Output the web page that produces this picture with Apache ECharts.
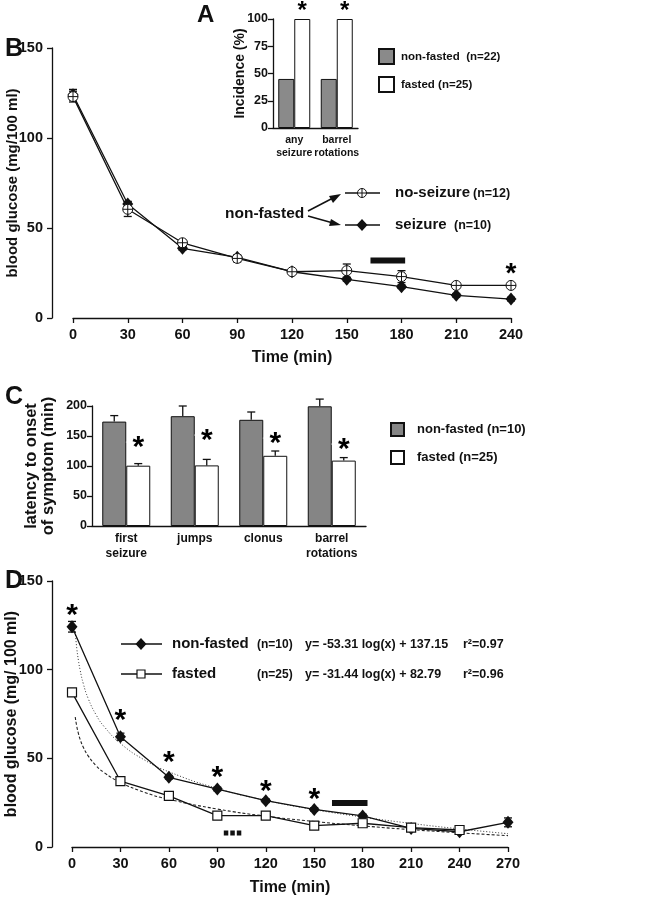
<!DOCTYPE html>
<html>
<head>
<meta charset="utf-8">
<title>blood glucose</title>
<script src="https://cdn.jsdelivr.net/npm/echarts@6/dist/echarts.min.js"></script>
<style>body{margin:0;background:#fff}</style>
</head>
<body>
<div id="main" style="width:652px;height:899px;"></div>
<script>
// ---- panel A: incidence
var incCats = ['any\nseizure', 'barrel\nrotations'];
var incNonFasted = [45, 45];
var incFasted = [100, 100];
var incStars = [[0, 111], [1, 111]];

// ---- panel B: non-fasted, seizure vs no-seizure
var timesB = [0, 30, 60, 90, 120, 150, 180, 210, 240];
var noSeizure = [123, 60.4, 41.8, 33.1, 25.7, 26.3, 23, 18.1, 18.1];
var noSeizureErr = [3, 4, 1.5, 2, 1, 3.7, 3.3, 1, 1.5];
var seizure = [124, 63.3, 38.7, 33.7, 25.7, 21.5, 17.4, 12.6, 10.5];
var seizureErr = [3, 1.5, 1, 1, 1, 1, 1, 1, 1];
var barB = [[163, 32], [182, 32]];
var starsB = [[240, 27]];

// ---- panel C: latency
var symCats = ['first\nseizure', 'jumps', 'clonus', 'barrel\nrotations'];
var latNonFasted = [174, 183, 177, 199.5];
var latNonFastedErr = [10, 17, 13, 12];
var latFasted = [100.5, 101, 117, 109];
var latFastedErr = [3.5, 10, 8, 5];
var starsC = [[0, 140], [1, 151.7], [2, 146.7], [3, 136.7]];

// ---- panel D: non-fasted vs fasted
var timesD = [0, 30, 60, 90, 120, 150, 180, 210, 240, 270];
var nonFastedD = [124.2, 62.2, 39.3, 32.7, 26.1, 21.2, 17.5, 10.5, 8.6, 13.9];
var nonFastedErrD = [3, 2, 1, 1, 1, 1, 1, 1, 1, 2.5];
var timesFD = [0, 30, 60, 90, 120, 150, 180, 210, 240];
var fastedD = [87.2, 37.2, 28.8, 17.7, 17.7, 12, 13.4, 10.9, 9.6];
var fastedErrD = [1, 1, 1, 1, 1.5, 1, 1, 1, 1];
// fitted curves as drawn (log fits)
var fitNonFasted = [[2, 121.1], [3, 111.7], [4, 105.1], [5, 99.9], [7, 92.1], [10, 83.8], [15, 74.4], [20, 67.8], [30, 58.4], [45, 49.0], [60, 42.4], [90, 33.0], [120, 26.3], [150, 21.1], [180, 16.9], [210, 13.3], [240, 10.2], [270, 7.5]];
var fitFasted = [[2, 73.3], [3, 67.8], [4, 63.9], [5, 60.8], [7, 56.2], [10, 51.4], [15, 45.8], [20, 41.9], [30, 36.4], [45, 30.8], [60, 26.9], [90, 21.4], [120, 17.4], [150, 14.4], [180, 11.9], [210, 9.8], [240, 8.0], [270, 6.4]];
var barD = [[161, 24.8], [183, 24.8]];
var dotBarD = [[94, 7.9], [105, 7.9]];
var starsD = [[0, 133.7], [30, 74.5], [60, 50.8], [90, 42.3], [120, 34.4], [150, 29.9]];

var FONT = '"Liberation Sans", Arial, sans-serif';
var INK = '#111';
var GRAY = '#8a8a8a';

function pairs(xs, ys) {
    return xs.map(function (x, i) { return [x, ys[i]]; });
}
function errData(xs, ys, es) {
    return xs.map(function (x, i) { return [x, ys[i] - es[i], ys[i] + es[i]]; });
}

// error bars drawn through the axis scales
function errSeries(grid, data, opt) {
    return {
        type: 'custom',
        xAxisIndex: grid, yAxisIndex: grid,
        z: 1,
        data: data,
        renderItem: function (params, api) {
            var top = api.coord([api.value(0), api.value(2)]);
            var bot = api.coord([api.value(0), api.value(1)]);
            var dx = opt.dx || 0, w = opt.cap;
            var st = { stroke: INK, lineWidth: 1.3 };
            var kids = [
                { type: 'line', shape: { x1: top[0] + dx, y1: top[1], x2: bot[0] + dx, y2: bot[1] }, style: st },
                { type: 'line', shape: { x1: top[0] + dx - w, y1: top[1], x2: top[0] + dx + w, y2: top[1] }, style: st }
            ];
            if (!opt.upOnly) {
                kids.push({ type: 'line', shape: { x1: bot[0] + dx - w, y1: bot[1], x2: bot[0] + dx + w, y2: bot[1] }, style: st });
            }
            return { type: 'group', children: kids };
        }
    };
}

function stars(grid, data, size, dx) {
    return {
        type: 'scatter', xAxisIndex: grid, yAxisIndex: grid,
        data: data, symbolSize: 1, clip: false, silent: true, z: 5,
        itemStyle: { color: '#fff', opacity: 1 },
        label: {
            show: true, position: 'inside', formatter: '*',
            fontFamily: FONT, fontWeight: 'bold', fontSize: size,
            color: '#000', textBorderWidth: 0, opacity: 1,
            offset: [dx || 0, size * 0.18]
        }
    };
}

var circleCross = 'path://M0,-10A10,10,0,1,1,0,10A10,10,0,1,1,0,-10ZM0,-10L0,10M-10,0L10,0';

function valueAxis(grid, min, max, step, fs, extra) {
    var a = {
        type: 'value', gridIndex: grid, min: min, max: max, interval: step,
        splitLine: { show: false },
        nameMoveOverlap: false,
        axisLine: { show: true, onZero: false, lineStyle: { color: INK, width: 1.3 } },
        axisTick: { show: true, length: 5, lineStyle: { color: INK, width: 1.3 } },
        axisLabel: { color: INK, fontFamily: FONT, fontWeight: 'bold', fontSize: fs, margin: 5 }
    };
    for (var k in extra) a[k] = extra[k];
    return a;
}

function catAxis(grid, cats, fs) {
    return {
        type: 'category', gridIndex: grid, data: cats,
        axisLine: { show: true, onZero: false, lineStyle: { color: INK, width: 1.3 } },
        axisTick: { show: false },
        axisLabel: { color: INK, fontFamily: FONT, fontWeight: 'bold', fontSize: fs, lineHeight: fs + 3, margin: 5, interval: 0 }
    };
}

function nameStyle(fs, lh) {
    return { color: INK, fontFamily: FONT, fontWeight: 'bold', fontSize: fs, lineHeight: lh || fs + 2 };
}

var bigLabel = { color: INK, fontFamily: FONT, fontWeight: 'bold', fontSize: 14.5, margin: 9 };

var chart = echarts.init(document.getElementById('main'));

var option = {
    animation: false,
    backgroundColor: '#fff',
    grid: [
        { left: 273, right: 294, top: 19, bottom: 771, outerBoundsMode: 'none', containLabel: false },
        { left: 73, right: 141, top: 48, bottom: 581, outerBoundsMode: 'none', containLabel: false },
        { left: 92, right: 286, top: 406, bottom: 373, outerBoundsMode: 'none', containLabel: false },
        { left: 72, right: 144, top: 581, bottom: 52, outerBoundsMode: 'none', containLabel: false },
        // holders for the detached y axes of B and D
        { left: 52, right: 579, top: 48, bottom: 581, outerBoundsMode: 'none', containLabel: false },
        { left: 52, right: 580, top: 581, bottom: 52, outerBoundsMode: 'none', containLabel: false }
    ],
    xAxis: [
        catAxis(0, incCats, 10.5),
        valueAxis(1, 0, 240, 30, 14.5, {
            axisLabel: bigLabel,
            name: 'Time (min)', nameLocation: 'middle', nameGap: 31, nameTextStyle: nameStyle(16)
        }),
        catAxis(2, symCats, 12),
        valueAxis(3, 0, 270, 30, 14.5, {
            axisLabel: bigLabel,
            name: 'Time (min)', nameLocation: 'middle', nameGap: 32, nameTextStyle: nameStyle(16)
        }),
        { type: 'value', gridIndex: 4, min: 0, max: 1, show: false },
        { type: 'value', gridIndex: 5, min: 0, max: 1, show: false }
    ],
    yAxis: [
        valueAxis(0, 0, 100, 25, 12.5, {
            name: 'Incidence (%)', nameLocation: 'middle', nameGap: 25, nameTextStyle: nameStyle(14)
        }),
        { type: 'value', gridIndex: 1, min: 0, max: 150, show: false },
        valueAxis(2, 0, 200, 50, 12.5, {
            name: 'latency to onset\nof symptom (min)', nameLocation: 'middle', nameGap: 35, nameTextStyle: nameStyle(16.5, 17)
        }),
        { type: 'value', gridIndex: 3, min: 0, max: 150, show: false },
        valueAxis(4, 0, 150, 50, 14.5, {
            axisLabel: bigLabel,
            name: 'blood glucose (mg/100 ml)', nameLocation: 'middle', nameGap: 31, nameTextStyle: nameStyle(15)
        }),
        valueAxis(5, 0, 150, 50, 14.5, {
            axisLabel: bigLabel,
            name: 'blood glucose (mg/ 100 ml)', nameLocation: 'middle', nameGap: 31, nameTextStyle: nameStyle(16)
        })
    ],
    legend: [
        {
            orient: 'vertical', left: 373, top: 43, itemWidth: 15, itemHeight: 15, itemGap: 11, icon: 'rect',
            data: ['non-fasted  (n=22)', 'fasted (n=25)'],
            textStyle: { color: INK, fontFamily: FONT, fontWeight: 'bold', fontSize: 11.5, padding: [0, 0, 0, 2] }
        },
        {
            orient: 'vertical', left: 385, top: 417, itemWidth: 13, itemHeight: 13, itemGap: 13, icon: 'rect',
            data: ['non-fasted (n=10)', 'fasted (n=25)'],
            textStyle: { color: INK, fontFamily: FONT, fontWeight: 'bold', fontSize: 13, padding: [0, 0, 0, 8] }
        }
    ],
    series: [
        // A
        {
            name: 'non-fasted  (n=22)', type: 'bar', xAxisIndex: 0, yAxisIndex: 0,
            data: incNonFasted, barWidth: 16, barGap: '0%',
            itemStyle: { color: GRAY, borderColor: INK, borderWidth: 1 }
        },
        {
            name: 'fasted (n=25)', type: 'bar', xAxisIndex: 0, yAxisIndex: 0,
            data: incFasted, barWidth: 16, barGap: '0%',
            itemStyle: { color: '#fff', borderColor: INK, borderWidth: 1 }
        },
        stars(0, incStars, 24, 8),

        // B
        errSeries(1, errData(timesB, noSeizure, noSeizureErr), { cap: 4 }),
        errSeries(1, errData(timesB, seizure, seizureErr), { cap: 4 }),
        {
            type: 'line', xAxisIndex: 1, yAxisIndex: 1, data: pairs(timesB, seizure),
            symbol: 'diamond', symbolSize: [11, 13],
            lineStyle: { color: INK, width: 1.3 }, itemStyle: { color: INK }
        },
        {
            type: 'line', xAxisIndex: 1, yAxisIndex: 1, data: pairs(timesB, noSeizure),
            symbol: circleCross, symbolSize: 10,
            lineStyle: { color: INK, width: 1.3 }, itemStyle: { color: '#fff', borderColor: INK, borderWidth: 1 }
        },
        {
            type: 'line', xAxisIndex: 1, yAxisIndex: 1, data: barB, symbol: 'none',
            lineStyle: { color: INK, width: 6, cap: 'butt' }
        },
        stars(1, starsB, 28, 0),

        // C
        {
            name: 'non-fasted (n=10)', type: 'bar', xAxisIndex: 2, yAxisIndex: 2,
            data: latNonFasted, barWidth: 24, barGap: '0%',
            itemStyle: { color: '#858585', borderColor: INK, borderWidth: 1 }
        },
        {
            name: 'fasted (n=25)', type: 'bar', xAxisIndex: 2, yAxisIndex: 2,
            data: latFasted, barWidth: 24, barGap: '0%',
            itemStyle: { color: '#fff', borderColor: INK, borderWidth: 1 }
        },
        errSeries(2, latNonFasted.map(function (v, i) { return [i, v, v + latNonFastedErr[i]]; }), { cap: 4, dx: -12, upOnly: true }),
        errSeries(2, latFasted.map(function (v, i) { return [i, v, v + latFastedErr[i]]; }), { cap: 4, dx: 12, upOnly: true }),
        stars(2, starsC, 30, 12),

        // D
        {
            type: 'line', xAxisIndex: 3, yAxisIndex: 3, data: fitNonFasted, symbol: 'none', smooth: true,
            lineStyle: { color: '#333', width: 1, type: [1, 2] }
        },
        {
            type: 'line', xAxisIndex: 3, yAxisIndex: 3, data: fitFasted, symbol: 'none', smooth: true,
            lineStyle: { color: '#222', width: 1.1, type: [3, 2] }
        },
        errSeries(3, errData(timesD, nonFastedD, nonFastedErrD), { cap: 4 }),
        errSeries(3, errData(timesFD, fastedD, fastedErrD), { cap: 4 }),
        {
            type: 'line', xAxisIndex: 3, yAxisIndex: 3, data: pairs(timesD, nonFastedD),
            symbol: 'diamond', symbolSize: [11, 13],
            lineStyle: { color: INK, width: 1.3 }, itemStyle: { color: INK }
        },
        {
            type: 'line', xAxisIndex: 3, yAxisIndex: 3, data: pairs(timesFD, fastedD),
            symbol: 'rect', symbolSize: 9,
            lineStyle: { color: INK, width: 1.3 }, itemStyle: { color: '#fff', borderColor: INK, borderWidth: 1.2 }
        },
        {
            type: 'line', xAxisIndex: 3, yAxisIndex: 3, data: barD, symbol: 'none',
            lineStyle: { color: INK, width: 6, cap: 'butt' }
        },
        {
            type: 'line', xAxisIndex: 3, yAxisIndex: 3, data: dotBarD, symbol: 'none',
            lineStyle: { color: INK, width: 5, type: [4.5, 2], cap: 'butt' }
        },
        stars(3, starsD, 30, 0)
    ],
    graphic: [
        // panel letters
        { type: 'text', left: 197, top: 3, style: { text: 'A', font: 'bold 24px ' + FONT, fill: INK } },
        { type: 'text', left: 5, top: 37, style: { text: 'B', font: 'bold 25px ' + FONT, fill: INK } },
        { type: 'text', left: 5, top: 385, style: { text: 'C', font: 'bold 25px ' + FONT, fill: INK } },
        { type: 'text', left: 5, top: 569, style: { text: 'D', font: 'bold 25px ' + FONT, fill: INK } },

        // panel B key
        { type: 'text', x: 225, y: 214, style: { text: 'non-fasted', font: 'bold 15.5px ' + FONT, fill: INK, verticalAlign: 'middle' } },
        { type: 'polyline', shape: { points: [[308, 211], [333, 198]] }, style: { stroke: INK, lineWidth: 1.5 } },
        { type: 'polygon', shape: { points: [[341, 194], [329, 196], [333, 203]] }, style: { fill: INK } },
        { type: 'polyline', shape: { points: [[308, 216], [333, 223]] }, style: { stroke: INK, lineWidth: 1.5 } },
        { type: 'polygon', shape: { points: [[341, 225], [331, 219], [329, 226]] }, style: { fill: INK } },
        { type: 'line', shape: { x1: 345, y1: 193, x2: 380, y2: 193 }, style: { stroke: INK, lineWidth: 1.3 } },
        { type: 'circle', shape: { cx: 362, cy: 193, r: 4.5 }, style: { fill: '#fff', stroke: INK, lineWidth: 1 } },
        { type: 'line', shape: { x1: 362, y1: 188.5, x2: 362, y2: 197.5 }, style: { stroke: INK, lineWidth: 1 } },
        { type: 'line', shape: { x1: 357.5, y1: 193, x2: 366.5, y2: 193 }, style: { stroke: INK, lineWidth: 1 } },
        { type: 'text', x: 395, y: 193, style: { text: 'no-seizure', font: 'bold 15px ' + FONT, fill: INK, verticalAlign: 'middle' } },
        { type: 'text', x: 473, y: 194, style: { text: '(n=12)', font: 'bold 12.5px ' + FONT, fill: INK, verticalAlign: 'middle' } },
        { type: 'line', shape: { x1: 345, y1: 225, x2: 380, y2: 225 }, style: { stroke: INK, lineWidth: 1.3 } },
        { type: 'polygon', shape: { points: [[362, 219], [367.5, 225], [362, 231], [356.5, 225]] }, style: { fill: INK } },
        { type: 'text', x: 395, y: 225, style: { text: 'seizure', font: 'bold 15px ' + FONT, fill: INK, verticalAlign: 'middle' } },
        { type: 'text', x: 454, y: 226, style: { text: '(n=10)', font: 'bold 12.5px ' + FONT, fill: INK, verticalAlign: 'middle' } },

        // panel D key
        { type: 'line', shape: { x1: 121, y1: 644, x2: 162, y2: 644 }, style: { stroke: INK, lineWidth: 1.3 } },
        { type: 'polygon', shape: { points: [[141, 638], [146.5, 644], [141, 650], [135.5, 644]] }, style: { fill: INK } },
        { type: 'text', x: 172, y: 644, style: { text: 'non-fasted', font: 'bold 15px ' + FONT, fill: INK, verticalAlign: 'middle' } },
        { type: 'text', x: 257, y: 645, style: { text: '(n=10)', font: 'bold 12px ' + FONT, fill: INK, verticalAlign: 'middle' } },
        { type: 'text', x: 305, y: 645, style: { text: 'y= -53.31 log(x) + 137.15', font: 'bold 12.5px ' + FONT, fill: INK, verticalAlign: 'middle' } },
        { type: 'text', x: 463, y: 645, style: { text: 'r²=0.97', font: 'bold 12.5px ' + FONT, fill: INK, verticalAlign: 'middle' } },
        { type: 'line', shape: { x1: 121, y1: 674, x2: 162, y2: 674 }, style: { stroke: INK, lineWidth: 1.3 } },
        { type: 'rect', shape: { x: 137, y: 670, width: 8, height: 8 }, style: { fill: '#fff', stroke: INK, lineWidth: 1.2 } },
        { type: 'text', x: 172, y: 674, style: { text: 'fasted', font: 'bold 15px ' + FONT, fill: INK, verticalAlign: 'middle' } },
        { type: 'text', x: 257, y: 675, style: { text: '(n=25)', font: 'bold 12px ' + FONT, fill: INK, verticalAlign: 'middle' } },
        { type: 'text', x: 305, y: 675, style: { text: 'y= -31.44 log(x) + 82.79', font: 'bold 12.5px ' + FONT, fill: INK, verticalAlign: 'middle' } },
        { type: 'text', x: 463, y: 675, style: { text: 'r²=0.96', font: 'bold 12.5px ' + FONT, fill: INK, verticalAlign: 'middle' } }
    ]
};

chart.setOption(option);
</script>
</body>
</html>
